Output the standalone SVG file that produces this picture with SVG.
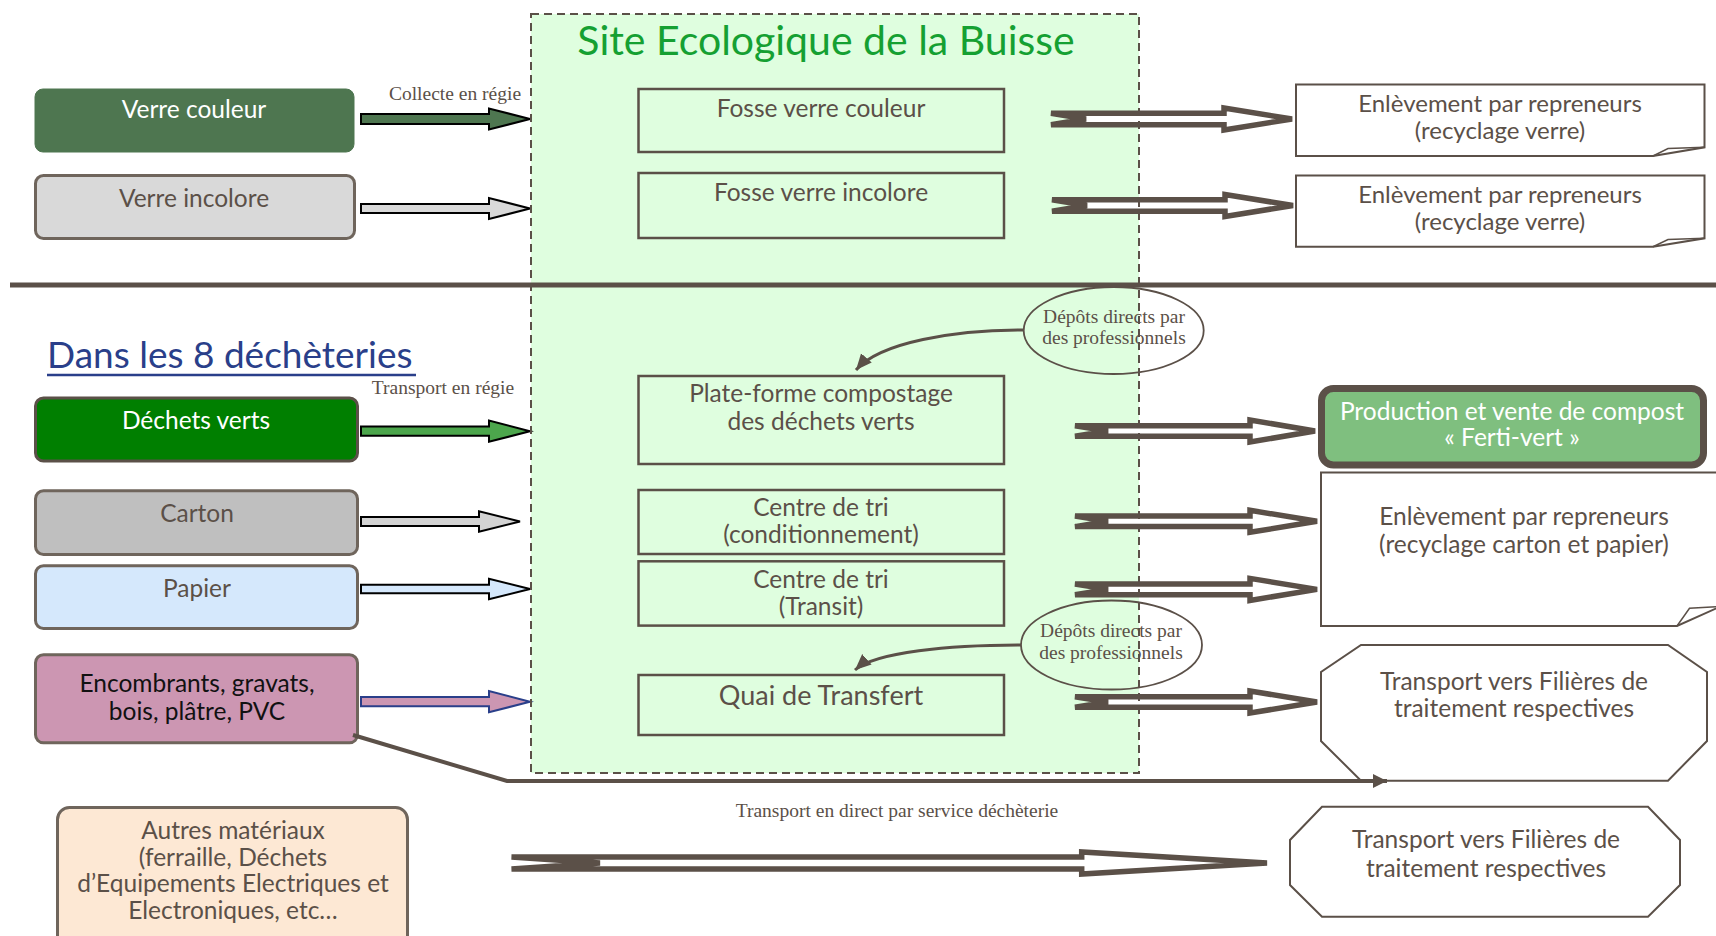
<svg xmlns="http://www.w3.org/2000/svg" width="1716" height="936" viewBox="0 0 1716 936">
<defs>
<style>
.t{font-family:Lato,"Open Sans","DejaVu Sans",sans-serif;font-size:24.5px;fill:#5b5048;text-anchor:middle}
.w{fill:#ffffff}
.s{font-family:"Liberation Serif","DejaVu Serif",serif;font-size:19.5px;fill:#5b5048;text-anchor:middle}
.box{fill:none;stroke:#5b5048;stroke-width:2.5}
.src{stroke:#6f655c;stroke-width:3}
.hollow{fill:#ffffff;stroke:#5b5048;stroke-width:5.5;stroke-linejoin:miter}
.solid{stroke:#000000;stroke-width:2}
.ln{fill:none;stroke:#5b5048}
.out{fill:#ffffff;stroke:#5b5048;stroke-width:2}
</style>
<marker id="ah" markerUnits="userSpaceOnUse" markerWidth="18" markerHeight="16" refX="16" refY="8" orient="auto">
<path d="M0,1 L16,8 L0,15 z" fill="#5b5048"/>
</marker>
<marker id="ah2" markerUnits="userSpaceOnUse" markerWidth="16" markerHeight="16" refX="14" refY="8" orient="auto">
<path d="M0,1 L14,8 L0,15 z" fill="#5b5048"/>
</marker>
</defs>
<rect width="1716" height="936" fill="#ffffff"/>

<g id="site">
<rect x="531" y="14" width="608" height="759" fill="#dffedf"/>
<text x="826" y="55" style="font-family:Lato,'Open Sans',sans-serif;font-size:41px;fill:#15a032;text-anchor:middle">Site Ecologique de la Buisse</text>
</g>

<line x1="10" y1="285" x2="1716" y2="285" stroke="#5b5048" stroke-width="5"/>

<g id="verre-couleur">
<rect x="35" y="89" width="319" height="63" rx="8" fill="#4e7650" stroke="#4e7650" stroke-width="1"/>
<text class="t w" x="194" y="118">Verre couleur</text>
</g>
<g id="verre-incolore">
<rect x="35.5" y="175.5" width="319" height="63" rx="8" fill="#d9d9d9" class="src"/>
<text class="t" x="194" y="207">Verre incolore</text>
</g>

<g id="dans-titre">
<text x="47" y="368" style="font-family:Lato,'Open Sans',sans-serif;font-size:37px;fill:#2a3f8a">Dans les 8 déchèteries</text>
<line x1="47" y1="375" x2="416" y2="375" stroke="#2a3f8a" stroke-width="2.5"/>
</g>

<g id="dechets-verts">
<rect x="35.5" y="398" width="322" height="63" rx="8" fill="#007f00" stroke="#5b5048" stroke-width="3"/>
<text class="t w" x="196" y="429">Déchets verts</text>
</g>
<g id="carton">
<rect x="35.5" y="490.8" width="322" height="63.7" rx="8" fill="#bfbfbf" class="src"/>
<text class="t" x="197" y="522">Carton</text>
</g>
<g id="papier">
<rect x="35.5" y="565.8" width="322" height="62.7" rx="8" fill="#d5e8fc" class="src"/>
<text class="t" x="197" y="597">Papier</text>
</g>
<g id="encombrants">
<rect x="35.5" y="654.8" width="322" height="88" rx="8" fill="#cc96b2" class="src"/>
<text class="t" x="197" y="692" style="fill:#111111">Encombrants, gravats,</text>
<text class="t" x="197" y="720" style="fill:#111111">bois, plâtre, PVC</text>
</g>
<g id="autres">
<rect x="57.5" y="807.5" width="350" height="140" rx="12" fill="#fde8d4" class="src"/>
<text class="t" x="233" y="839">Autres matériaux</text>
<text class="t" x="233" y="866">(ferraille, Déchets</text>
<text class="t" x="233" y="892">d’Equipements Electriques et</text>
<text class="t" x="233" y="919">Electroniques, etc…</text>
</g>

<g id="fosse-couleur">
<rect x="638.5" y="89" width="365.5" height="63" class="box"/>
<text class="t" x="821" y="117">Fosse verre couleur</text>
</g>
<g id="fosse-incolore">
<rect x="638.5" y="173" width="365.5" height="65" class="box"/>
<text class="t" x="821" y="201">Fosse verre incolore</text>
</g>
<g id="plateforme">
<rect x="638.5" y="376" width="365.5" height="88" class="box"/>
<text class="t" x="821" y="402">Plate-forme compostage</text>
<text class="t" x="821" y="430">des déchets verts</text>
</g>
<g id="tri-conditionnement">
<rect x="638.5" y="490" width="365.5" height="64" class="box"/>
<text class="t" x="821" y="516">Centre de tri</text>
<text class="t" x="821" y="543">(conditionnement)</text>
</g>
<g id="tri-transit">
<rect x="638.5" y="561.3" width="365.5" height="64.3" class="box"/>
<text class="t" x="821" y="588">Centre de tri</text>
<text class="t" x="821" y="615">(Transit)</text>
</g>
<g id="quai">
<rect x="638.5" y="675" width="365.5" height="60" class="box"/>
<text class="t" x="821" y="705" style="font-size:27px">Quai de Transfert</text>
</g>

<g id="depots-1">
<ellipse cx="1113.7" cy="330.5" rx="90" ry="43.5" fill="none" stroke="#5b5048" stroke-width="1.8"/>
<text class="s" x="1114" y="323">Dépôts directs par</text>
<text class="s" x="1114" y="344">des professionnels</text>
</g>
<g id="depots-2">
<ellipse cx="1111.5" cy="645" rx="90.5" ry="44.5" fill="none" stroke="#5b5048" stroke-width="1.8"/>
<text class="s" x="1111" y="637">Dépôts directs par</text>
<text class="s" x="1111" y="659">des professionnels</text>
</g>

<g id="enlevement-verre-1">
<path d="M1296,84.5 H1704.5 V147.3 L1653,156 H1296 Z" class="out"/>
<path d="M1653,156 L1668,148.5 L1704.5,147.3" class="ln" stroke-width="1.5"/>
<text class="t" x="1500" y="112" style="font-size:24px">Enlèvement par repreneurs</text>
<text class="t" x="1500" y="139" style="font-size:24px">(recyclage verre)</text>
</g>
<g id="enlevement-verre-2">
<path d="M1296,175.5 H1704.5 V238.3 L1653,246.7 H1296 Z" class="out"/>
<path d="M1653,246.7 L1668,239.5 L1704.5,238.3" class="ln" stroke-width="1.5"/>
<text class="t" x="1500" y="203" style="font-size:24px">Enlèvement par repreneurs</text>
<text class="t" x="1500" y="230" style="font-size:24px">(recyclage verre)</text>
</g>
<g id="production">
<rect x="1321.5" y="388.5" width="382" height="76.5" rx="12" fill="#7fbf7f" stroke="#5b5048" stroke-width="7"/>
<text class="t w" x="1512" y="420">Production et vente de compost</text>
<text class="t w" x="1512" y="446">« Ferti-vert »</text>
</g>
<g id="enlevement-carton">
<path d="M1321,472.5 H1720 V606.7 L1677,626 H1321 Z" class="out"/>
<path d="M1677,626 L1689.5,608.3 L1716,606.7" class="ln" stroke-width="1.5"/>
<text class="t" x="1524" y="525">Enlèvement par repreneurs</text>
<text class="t" x="1524" y="553">(recyclage carton et papier)</text>
</g>
<g id="transport-1">
<polygon points="1361,645 1668,645 1707,672 1707,741 1668,780.7 1361,780.7 1321,741 1321,672" class="out"/>
<text class="t" x="1514" y="690">Transport vers Filières de</text>
<text class="t" x="1514" y="717">traitement respectives</text>
</g>
<g id="transport-2">
<polygon points="1322,806.7 1648,806.7 1680,840 1680,885 1648,916.7 1322,916.7 1290,885 1290,840" class="out"/>
<text class="t" x="1486" y="848">Transport vers Filières de</text>
<text class="t" x="1486" y="877">traitement respectives</text>
</g>

<g id="connectors">
<polygon class="solid" fill="#4e7650" points="361,114 489,114 489,108.5 530,119 489,129.5 489,124 361,124"/>
<polygon class="solid" fill="#d9d9d9" points="361,204 489,204 489,198 530,208.5 489,219 489,213 361,213"/>
<polygon class="solid" fill="#4ca64c" points="361,426.6 489,426.6 489,420.5 530,431.2 489,441.8 489,435.8 361,435.8"/>
<polygon class="solid" fill="#d3d3d3" points="361,517 479,517 479,511.4 520,521.5 479,531.6 479,526 361,526"/>
<polygon class="solid" fill="#d5e8fc" points="361,584.7 489,584.7 489,578.9 530,589 489,599.1 489,593.3 361,593.3"/>
<polygon fill="#cc96b2" stroke="#2a3f8a" stroke-width="2" points="361,697.1 489,697.1 489,691.1 530,701.7 489,712.3 489,706.3 361,706.3"/>

<path class="hollow" d="M1051,113.3 H1224 V108 L1292,119 L1224,130 V124.7 H1051 L1086,119 Z"/>
<path class="hollow" d="M1052,199.8 H1225 V194.5 L1293,205.5 L1225,216.5 V211.2 H1052 L1087,205.5 Z"/>
<path class="hollow" d="M1075,425.8 H1250 V420 L1315,431 L1250,442 V436.2 H1075 L1108,431 Z"/>
<path class="hollow" d="M1075,516 H1250 V510.3 L1317,521.3 L1250,532.3 V526.6 H1075 L1108,521.3 Z"/>
<path class="hollow" d="M1075,584.1 H1250 V578.4 L1317,589.4 L1250,600.4 V594.7 H1075 L1108,589.4 Z"/>
<path class="hollow" d="M1075,696.7 H1250 V691 L1317,702 L1250,713 V707.3 H1075 L1108,702 Z"/>
<path class="hollow" d="M511.5,857 H1081.7 V852 L1267,863 L1081.7,874 V869 H511.5 L600,863 Z"/>

<path class="ln" stroke-width="3" d="M1023,330 C955,330 880,342 856,370" marker-end="url(#ah)"/>
<path class="ln" stroke-width="3" d="M1021,645 C950,645 875,652 855,670" marker-end="url(#ah)"/>
<path class="ln" stroke-width="4" d="M353,735 L507,781 L1387,781" marker-end="url(#ah2)"/>
</g>

<rect x="531" y="14" width="608" height="759" fill="none" stroke="#5b5048" stroke-width="2" stroke-dasharray="8,5"/>

<g id="labels">
<text class="s" x="455" y="100">Collecte en régie</text>
<text class="s" x="443" y="394">Transport en régie</text>
<text class="s" x="897" y="817">Transport en direct par service déchèterie</text>
</g>
</svg>
